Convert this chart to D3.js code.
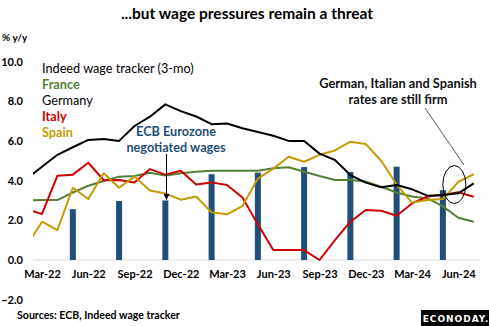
<!DOCTYPE html>
<html>
<head>
<meta charset="utf-8">
<script src="https://cdn.jsdelivr.net/npm/d3@7"></script>
<style>
  body { margin: 0; background: #fff; }
  svg { display: block; font-family: Lato, "Open Sans", sans-serif; }
</style>
</head>
<body>
<div id="chart"></div>
<script>

var width = 489;
var height = 326;

// monthly categories, Feb-22 sits just left of the plot area and gets clipped
var months = ["Feb-22","Mar-22","Apr-22","May-22","Jun-22","Jul-22","Aug-22","Sep-22","Oct-22","Nov-22","Dec-22",
  "Jan-23","Feb-23","Mar-23","Apr-23","May-23","Jun-23","Jul-23","Aug-23","Sep-23","Oct-23","Nov-23","Dec-23",
  "Jan-24","Feb-24","Mar-24","Apr-24","May-24","Jun-24","Jul-24"];

var france  = [3.0, 3.02, 3.02, 3.4, 3.74, 3.98, 4.2, 4.23, 4.4, 4.25, 4.37, 4.45, 4.5, 4.5, 4.5, 4.5, 4.62, 4.67, 4.45, 4.23, 4.03, 4.03, 3.95, 3.69, 3.4, 3.2, 3.1, 2.7, 2.13, 1.93];
var germany = [4.1, 4.7, 5.3, 5.68, 6.05, 6.1, 6.0, 6.75, 7.22, 7.84, 7.5, 7.23, 6.84, 6.88, 6.64, 6.45, 6.26, 6.0, 6.0, 5.36, 5.04, 4.28, 3.9, 3.66, 3.78, 3.56, 3.24, 3.27, 3.36, 3.86];
var italy   = [2.55, 2.32, 4.25, 4.3, 4.9, 4.02, 4.03, 3.9, 4.58, 4.3, 4.5, 3.8, 3.91, 3.78, 3.15, 1.8, 0.5, 0.5, 0.5, 0.0, 1.0, 1.93, 2.52, 2.48, 2.23, 2.85, 3.2, 3.27, 3.41, 3.19];
var spain   = [0.7, 1.93, 1.51, 3.64, 3.07, 4.37, 3.64, 4.2, 3.5, 3.35, 3.04, 3.2, 2.4, 2.3, 2.72, 4.1, 4.6, 5.2, 4.95, 5.3, 5.52, 5.96, 5.84, 5.0, 3.8, 2.89, 3.02, 3.07, 3.94, 4.32];

// ECB negotiated wages, quarterly, plotted at mid-quarter month
var ecbMonths = ["May-22","Aug-22","Nov-22","Feb-23","May-23","Aug-23","Nov-23","Feb-24","May-24"];
var ecbValues = [2.56, 2.97, 3.0, 4.32, 4.4, 4.68, 4.43, 4.7, 3.52];

var tickMonths = ["Mar-22","Jun-22","Sep-22","Dec-22","Mar-23","Jun-23","Sep-23","Dec-23","Mar-24","Jun-24"];
var yTicks = [-2, 0, 2, 4, 6, 8, 10];

var series = [
  {name: "France",  values: france,  color: "#548235", bold: true},
  {name: "Germany", values: germany, color: "#000000", bold: false},
  {name: "Italy",   values: italy,   color: "#d00000", bold: true},
  {name: "Spain",   values: spain,   color: "#c39a00", bold: true}
];

var plotLeft = 33, plotRight = 480;

var svg = d3.select("#chart")
  .append("svg")
    .attr("width", width)
    .attr("height", height);

// month index: Mar-22 = 1 in the months array
var x = d3.scaleLinear()
  .domain([1, 28])
  .range([42, 458.3]);

var y = d3.scaleLinear()
  .domain([-2, 10])
  .range([299.7, 61.5]);

function mIndex(m) { return months.indexOf(m); }

svg.append("defs").append("clipPath")
    .attr("id", "plotclip")
  .append("rect")
    .attr("x", plotLeft)
    .attr("y", 40)
    .attr("width", plotRight - plotLeft)
    .attr("height", 240);

// title
svg.append("text")
  .attr("x", 247)
  .attr("y", 19)
  .attr("text-anchor", "middle")
  .attr("font-size", 15.5)
  .attr("font-weight", "bold")
  .text("...but wage pressures remain a threat");

svg.append("text")
  .attr("x", 2)
  .attr("y", 41)
  .attr("font-size", 10)
  .attr("font-weight", "bold")
  .text("% y/y");

// y axis (labels only)
var yAxis = svg.append("g")
  .attr("transform", "translate(23,0)")
  .call(d3.axisLeft(y).tickValues(yTicks).tickFormat(d3.format(".1f")).tickSize(0).tickPadding(0));
yAxis.select(".domain").remove();
yAxis.selectAll("text")
  .attr("font-family", "Lato, sans-serif")
  .attr("font-size", 11)
  .attr("font-weight", "bold")
  .attr("fill", "#000");

// zero line
svg.append("line")
  .attr("x1", plotLeft)
  .attr("x2", plotRight)
  .attr("y1", y(0))
  .attr("y2", y(0))
  .attr("stroke", "#d9d9d9")
  .attr("stroke-width", 1);

// x axis labels
var xAxis = svg.append("g")
  .attr("transform", "translate(0," + y(0) + ")")
  .call(d3.axisBottom(x).tickValues(tickMonths.map(mIndex)).tickFormat(function(d) { return months[d]; }).tickSize(0).tickPadding(10));
xAxis.select(".domain").remove();
xAxis.selectAll("text")
  .attr("font-family", "Lato, sans-serif")
  .attr("font-size", 11)
  .attr("font-weight", "bold")
  .attr("fill", "#000");

// bars
svg.selectAll("rect.ecb")
  .data(ecbValues)
  .enter().append("rect")
    .attr("class", "ecb")
    .attr("x", function(d, i) { return x(mIndex(ecbMonths[i])) - 3; })
    .attr("y", function(d) { return y(d); })
    .attr("width", 6)
    .attr("height", function(d) { return y(0) - y(d); })
    .attr("fill", "#1f4e79");

// lines
var line = d3.line()
  .x(function(d, i) { return x(i); })
  .y(function(d) { return y(d); });

var lines = svg.append("g").attr("clip-path", "url(#plotclip)");
lines.selectAll("path")
  .data([series[0], series[2], series[3], series[1]])
  .enter().append("path")
    .attr("fill", "none")
    .attr("stroke", function(d) { return d.color; })
    .attr("stroke-width", 2)
    .attr("stroke-linejoin", "round")
    .attr("d", function(d) { return line(d.values); });

// legend block
svg.append("text")
  .attr("x", 42)
  .attr("y", 73)
  .attr("font-size", 12.7)
  .text("Indeed wage tracker (3-mo)");

svg.selectAll("text.leg")
  .data(series)
  .enter().append("text")
    .attr("class", "leg")
    .attr("x", 42)
    .attr("y", function(d, i) { return 89 + i * 16; })
    .attr("font-size", 12.7)
    .attr("font-weight", function(d) { return d.bold ? "bold" : "normal"; })
    .attr("fill", function(d) { return d.color; })
    .text(function(d) { return d.name; });

// ECB annotation
var ecbNote = svg.append("text")
  .attr("text-anchor", "middle")
  .attr("font-size", 12.7)
  .attr("font-weight", "bold")
  .attr("fill", "#1f4e79");
ecbNote.append("tspan").attr("x", 176).attr("y", 136).text("ECB Eurozone");
ecbNote.append("tspan").attr("x", 176).attr("y", 152).text("negotiated wages");

svg.append("defs").append("marker")
    .attr("id", "arrow")
    .attr("viewBox", "0 0 10 10")
    .attr("refX", 9)
    .attr("refY", 5)
    .attr("markerWidth", 6)
    .attr("markerHeight", 6)
    .attr("orient", "auto")
  .append("path")
    .attr("d", "M0,0L10,5L0,10z")
    .attr("fill", "#000");

svg.append("line")
  .attr("x1", 166.5)
  .attr("x2", 166.5)
  .attr("y1", 154)
  .attr("y2", y(ecbValues[2]) - 1)
  .attr("stroke", "#000")
  .attr("stroke-width", 1)
  .attr("marker-end", "url(#arrow)");

// right annotation
var firm = svg.append("text")
  .attr("text-anchor", "middle")
  .attr("font-size", 12.8)
  .attr("font-weight", "bold")
  .attr("fill", "#111");
firm.append("tspan").attr("x", 398).attr("y", 88).text("German, Italian and Spanish");
firm.append("tspan").attr("x", 398).attr("y", 104).text("rates are still firm");

svg.append("line")
  .attr("x1", 425)
  .attr("y1", 108)
  .attr("x2", 464)
  .attr("y2", 165)
  .attr("stroke", "#333")
  .attr("stroke-width", 0.8);

svg.append("ellipse")
  .attr("cx", x(28) - 4)
  .attr("cy", y(3.8))
  .attr("rx", 11.5)
  .attr("ry", 19)
  .attr("fill", "none")
  .attr("stroke", "#000")
  .attr("stroke-width", 1);

// source
svg.append("text")
  .attr("x", 17)
  .attr("y", 319)
  .attr("font-size", 10.6)
  .attr("font-weight", "bold")
  .text("Sources: ECB, Indeed wage tracker");

// logo
svg.append("rect")
  .attr("x", 421)
  .attr("y", 310)
  .attr("width", 68)
  .attr("height", 16)
  .attr("fill", "#000");

svg.append("text")
  .attr("x", 456)
  .attr("y", 322)
  .attr("text-anchor", "middle")
  .attr("font-family", "DejaVu Sans, sans-serif")
  .attr("font-size", 9)
  .attr("font-weight", "bold")
  .attr("letter-spacing", 1)
  .attr("fill", "#fff")
  .text("ECONODAY.");

</script>
</body>
</html>
